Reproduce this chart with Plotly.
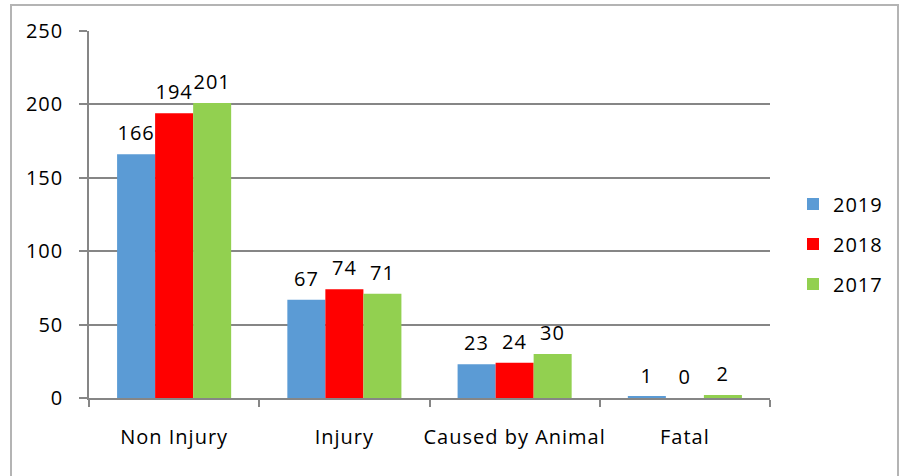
import plotly.graph_objects as go

categories = ["Non Injury", "Injury", "Caused by Animal", "Fatal"]
years = ["2019", "2018", "2017"]
values_2019 = [166, 67, 23, 1]
values_2018 = [194, 74, 24, 0]
values_2017 = [201, 71, 30, 2]
y_ticks = [0, 50, 100, 150, 200, 250]

colors = {"2019": "#5B9BD5", "2018": "#FF0000", "2017": "#92D050"}
series = {"2019": values_2019, "2018": values_2018, "2017": values_2017}

FONT = "Open Sans"
FS = 20
L, R, T, B = 89, 134, 31, 78
W, H = 904, 476
pw, ph = W - L - R, H - T - B
bargap = 0.33
bar_px = pw / len(categories) * (1 - bargap) / len(years)

fig = go.Figure()
for i, yr in enumerate(years):
    fig.add_trace(go.Bar(
        x=categories, y=series[yr], name=yr, legendgroup=yr,
        marker=dict(color=colors[yr], line=dict(width=0)),
    ))
    for c, v in zip(categories, series[yr]):
        fig.add_annotation(x=c, y=v, text=str(v), showarrow=False,
                           xshift=(i - 1) * bar_px, yanchor="bottom", yshift=6,
                           font=dict(family=FONT, size=FS, color="#000000"))

fig.update_layout(
    width=W, height=H,
    margin=dict(l=L, r=R, t=T, b=B, pad=0, autoexpand=False),
    paper_bgcolor="white", plot_bgcolor="white",
    barmode="group", bargap=bargap, bargroupgap=0,
    font=dict(family=FONT, size=FS, color="#000000"),
    showlegend=True,
    legend=dict(x=(793 - L) / pw, y=(398 - 244) / ph, xanchor="left", yanchor="middle",
                font=dict(family=FONT, size=FS), tracegroupgap=11, itemwidth=30,
                bgcolor="rgba(0,0,0,0)"),
    xaxis=dict(type="category", tickson="boundaries", ticks="outside", ticklen=7,
               tickcolor="#868686", tickwidth=1.5, ticklabelstandoff=20, tickangle=0,
               automargin=False,
               showline=True, linecolor="#868686", linewidth=1.5,
               showgrid=False, tickfont=dict(family=FONT, size=FS)),
    yaxis=dict(range=[0, 250], tickvals=y_ticks, ticks="outside", ticklen=8,
               tickcolor="#868686", tickwidth=1.5, ticklabelstandoff=12,
               automargin=False,
               showline=True, linecolor="#868686", linewidth=1.5,
               showgrid=True, gridcolor="#868686", gridwidth=1.5,
               zeroline=False, tickfont=dict(family=FONT, size=FS)),
)

fig.add_shape(type="rect", xref="paper", yref="paper",
              x0=(11 - L) / pw, x1=(898 - L) / pw,
              y0=(398 - 485) / ph, y1=(398 - 5) / ph,
              line=dict(color="#B4B4B4", width=2), fillcolor="rgba(0,0,0,0)", layer="below")

fig.write_html("out.html", config={"displayModeBar": False},
               post_script="document.body.style.margin='0';document.body.style.overflow='hidden';"
                           "document.querySelectorAll('text').forEach(function(t){t.style.letterSpacing='1px';});")
